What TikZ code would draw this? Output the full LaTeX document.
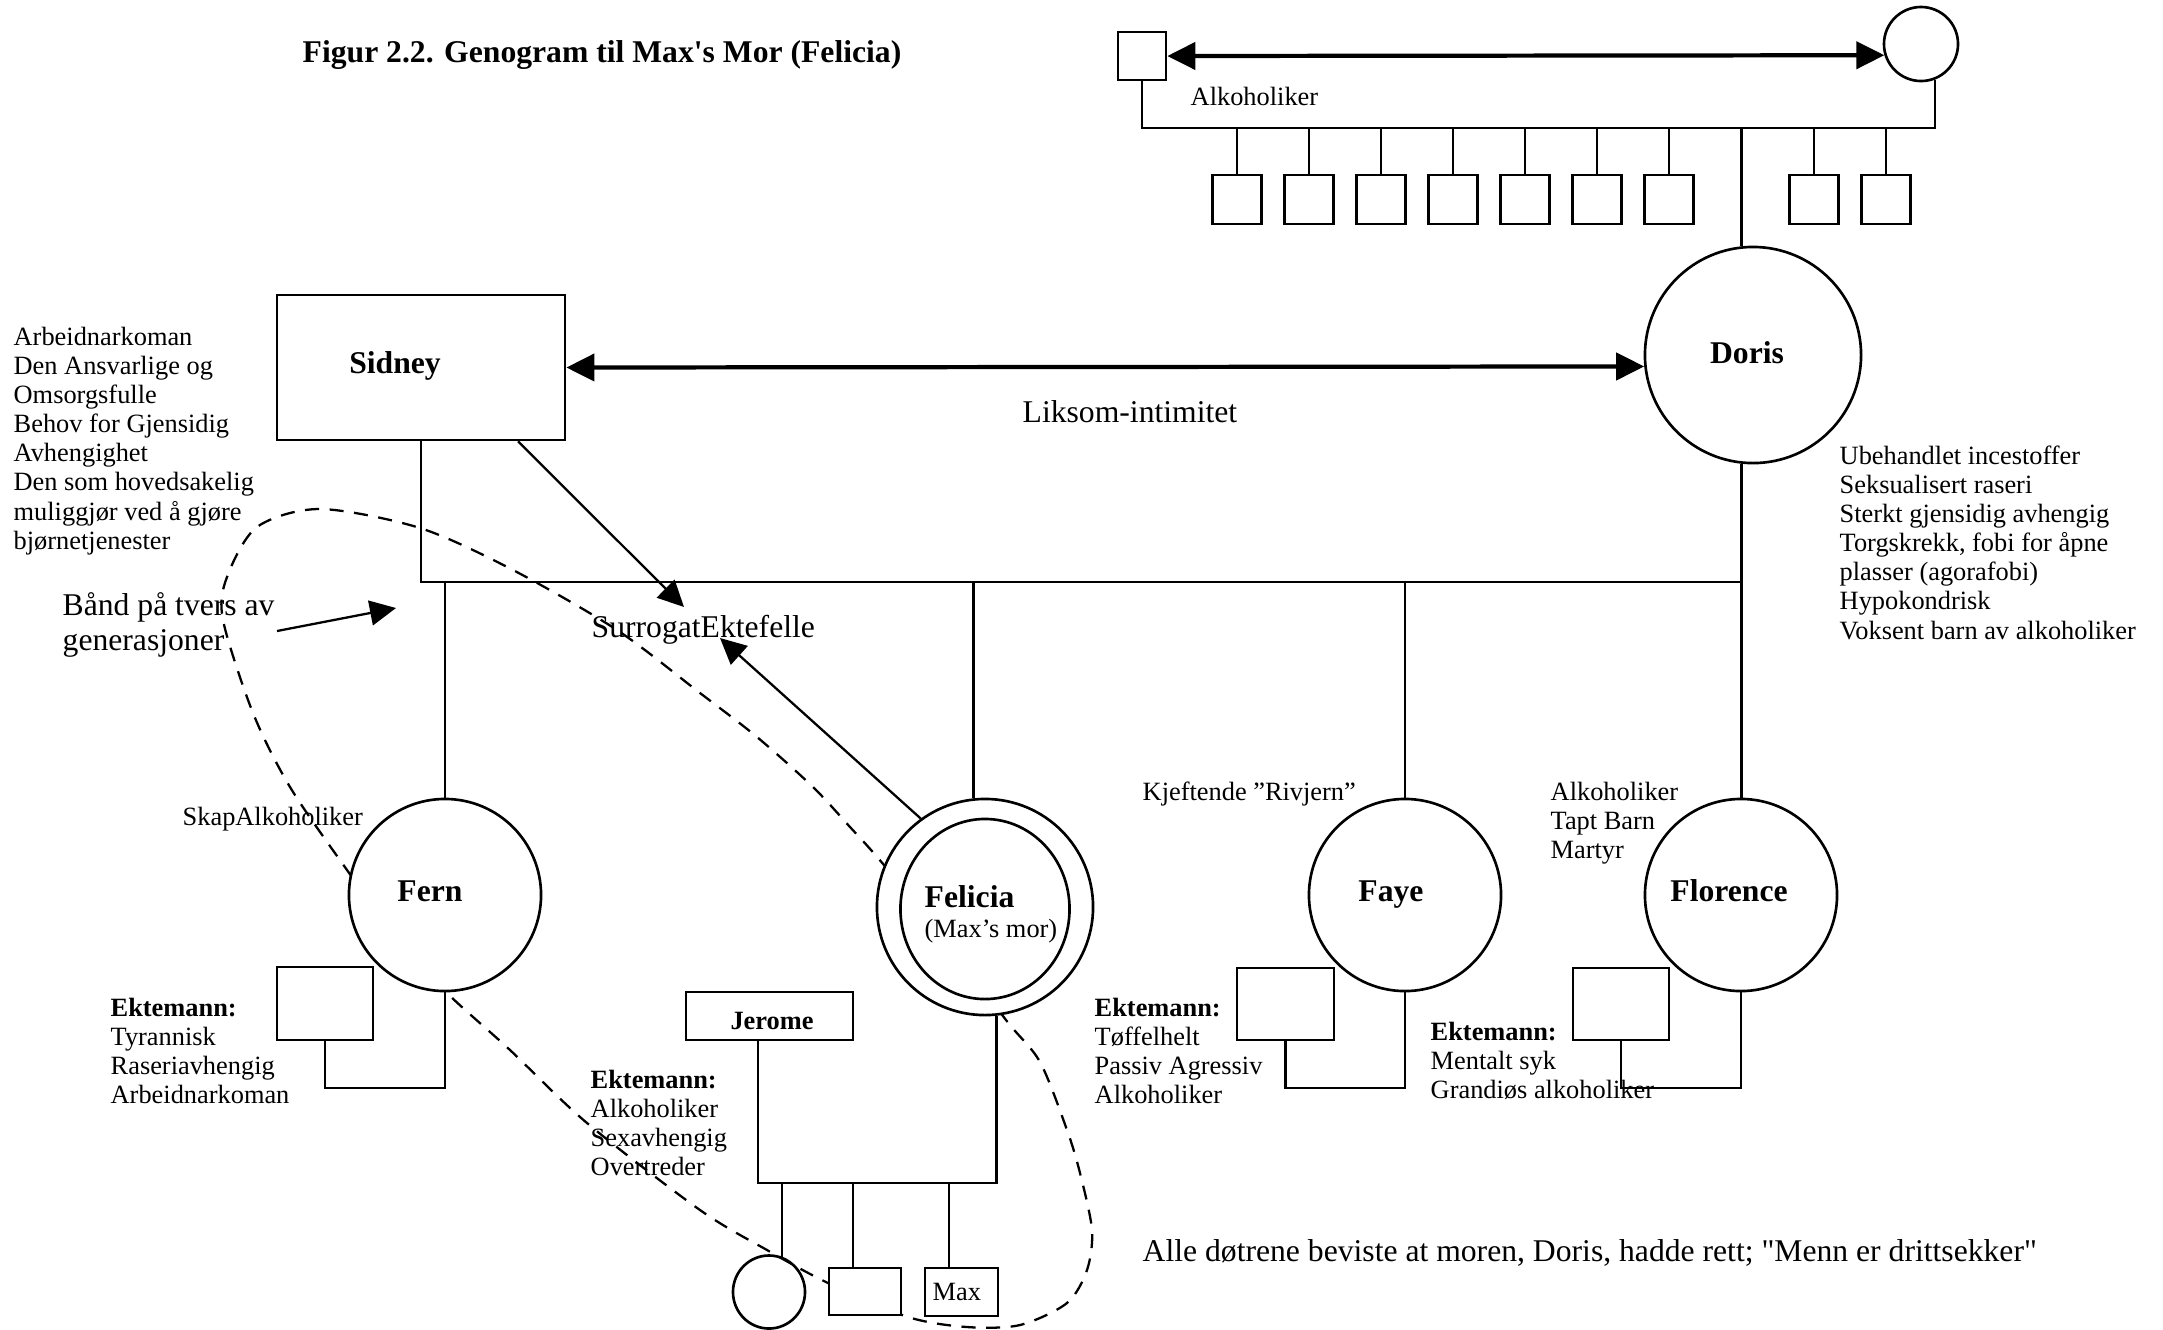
\documentclass[tikz,border=0pt]{standalone}
\usepackage{fontspec}
\setmainfont{Liberation Serif}
\usetikzlibrary{arrows.meta,shapes.geometric,calc}

% text sizes used in the genogram
\newcommand\smallsz{\fontsize{7.5}{8.3}\selectfont}
\newcommand\namesz{\fontsize{9}{10}\selectfont\bfseries}
\newcommand\largesz{\fontsize{9}{9.95}\selectfont}
\newcommand\txtlines[1]{\begin{tabular}[t]{@{}l@{}}#1\end{tabular}}

\begin{document}
\begin{tikzpicture}[x=0.01cm, y=-0.01cm,
  shapeline/.style={draw, line width=0.75pt, fill=white},
  person/.style={shapeline, ellipse, inner sep=0pt},
  sqbox/.style={shapeline, rectangle, inner sep=0pt},
  conn/.style={line width=0.65pt},
  rel/.style={line width=1.2pt, arrows={Triangle[length=0.28cm,width=0.27cm]-Triangle[length=0.28cm,width=0.27cm]}},
  pointer/.style={line width=0.65pt, arrows={-Triangle[length=0.26cm,width=0.25cm]}},
  loopline/.style={line width=0.65pt, dash pattern=on 4pt off 3pt},
  note/.style={inner sep=0pt, anchor=base west, font=\smallsz},
  bignote/.style={inner sep=0pt, anchor=base west, font=\largesz},
  pname/.style={inner sep=0pt, anchor=base, font=\namesz},
]
\useasboundingbox (0,0) rectangle (2163,1329);

% dashed loop: cross-generational bond around Fern and Felicia
\draw[loopline] plot[smooth cycle, tension=0.5] coordinates {
  (878,858) (940,932) (1006,1020) (1040,1062) (1067,1130) (1080,1173)
  (1092,1230) (1087,1270) (1067,1303) (1020,1325) (967,1327) (908,1317)
  (828,1283) (767,1250) (700,1210) (587,1123) (510,1050) (446,992)
  (395,935) (347,870) (290,787) (253,713) (223,620) (227,577)
  (257,527) (320,509) (420,528) (513,570) (617,630) (700,693)
  (757,737) (813,787) (850,827)};

% title
\node[anchor=base west, inner sep=0pt, font=\fontsize{9}{10.8}\selectfont\bfseries] (title)
  at (302,62) {Figur 2.2. Genogram til Max\textquotesingle s Mor (Felicia)};

% grandparents and their children
\node[sqbox, minimum width=0.48cm, minimum height=0.48cm] (gf) at (1142,56) {};
\node[person, minimum width=0.74cm, minimum height=0.74cm] (gm) at (1921,44) {};
\draw[rel] (gf.east) -- (gm.197);
\node[note] (gfnote) at (1190,105) {Alkoholiker};
\coordinate (sibY) at (0,128);
\draw[conn] (gf.south) |- (gm.-69 |- sibY) -- (gm.-69);
\foreach \i/\x in {1/1237,2/1309,3/1381,4/1453,5/1525,6/1597,7/1669,8/1814,9/1886} {
  \node[sqbox, minimum width=0.49cm, minimum height=0.49cm] (sib\i) at (\x,199.5) {};
  \draw[conn] (sib\i.north |- sibY) -- (sib\i.north);
}

% Doris
\node[person, minimum width=2.16cm, minimum height=2.16cm] (doris) at (1753,355) {};
\node[pname] (dorisT) at (1747,363) {Doris};
\draw[conn] (doris.96 |- sibY) -- (doris.96);
\node[note] (dorisnote) at (1839,464) {\txtlines{Ubehandlet incestoffer\\Seksualisert raseri\\Sterkt gjensidig avhengig\\Torgskrekk, fobi for åpne\\plasser (agorafobi)\\Hypokondrisk\\Voksent barn av alkoholiker}};

% Sidney
\node[sqbox, minimum width=2.88cm, minimum height=1.45cm] (sidney) at (421,367.5) {};
\node[pname] (sidneyT) at (395,373) {Sidney};
\node[note] (sidneynote) at (13,345) {\txtlines{Arbeidnarkoman\\Den Ansvarlige og\\Omsorgsfulle\\Behov for Gjensidig\\Avhengighet\\Den som hovedsakelig\\muliggjør ved å gjøre\\bjørnetjenester}};
\draw[rel] (sidney.east) -- (doris.186);
\node[bignote] (liksom) at (1022,422) {Liksom-intimitet};

% daughters
\node[person, minimum width=1.92cm, minimum height=1.92cm] (fern) at (445,895) {};
\node[person, minimum width=2.16cm, minimum height=2.16cm] (felo) at (985,907) {};
\node[person, minimum width=1.69cm, minimum height=1.80cm] (feli) at (985,909) {};
\node[person, minimum width=1.92cm, minimum height=1.92cm] (faye) at (1405,895) {};
\node[person, minimum width=1.92cm, minimum height=1.92cm] (flor) at (1741,895) {};
\node[pname] (fernT) at (430,901) {Fern};
\node[inner sep=0pt, anchor=base west, font=\namesz] (feliT) at (924,907) {Felicia};
\node[note] (feliS) at (924,937) {(Max’s mor)};
\node[pname] (fayeT) at (1391,901) {Faye};
\node[pname] (florT) at (1729,901) {Florence};

\coordinate (famY) at (0,582);
\draw[conn] (sidney.south) |- (doris.-96 |- famY);
\draw[conn] (doris.-96) -- (doris.-96 |- flor.north);
\draw[conn] (fern.north |- famY) -- (fern.north);
\draw[conn] (felo.96 |- famY) -- (felo.96);
\draw[conn] (faye.north |- famY) -- (faye.north);

\node[note] (fernnote) at (182,825) {SkapAlkoholiker};
\node[note] (fayenote) at (1142,800) {Kjeftende ”Rivjern”};
\node[note] (flornote) at (1550,800) {\txtlines{Alkoholiker\\Tapt Barn\\Martyr}};

% surrogate spouse arrows
\node[bignote] (surr) at (591,637) {SurrogatEktefelle};
\coordinate (sidOut) at ([xshift=0.97cm]sidney.south);
\coordinate (surTipA) at (684,607);
\coordinate (surTipB) at (720,638);
\draw[pointer] (sidOut) -- (surTipA);
\draw[pointer] (felo.126) -- (surTipB);

% cross-generational bond label
\node[bignote] (band) at (62,615) {\txtlines{Bånd på tvers av\\generasjoner}};
\coordinate (bandFrom) at (277,631);
\coordinate (bandTo) at (396,608);
\draw[pointer] (bandFrom) -- (bandTo);

% husbands
\coordinate (husY) at (0,1088);
\node[sqbox, minimum width=0.96cm, minimum height=0.73cm] (fernh) at (325,1003.5) {};
\draw[conn] (fernh.south) |- (fern.south |- husY) -- (fern.south);
\node[note] (fernhnote) at (110,1016) {\txtlines{\textbf{Ektemann:}\\Tyrannisk\\Raseriavhengig\\Arbeidnarkoman}};

\node[sqbox, minimum width=0.97cm, minimum height=0.72cm] (fayeh) at (1285.5,1004) {};
\draw[conn] (fayeh.south) |- (faye.south |- husY) -- (faye.south);
\node[note] (fayehnote) at (1094,1016) {\txtlines{\textbf{Ektemann:}\\Tøffelhelt\\Passiv Agressiv\\Alkoholiker}};

\node[sqbox, minimum width=0.96cm, minimum height=0.72cm] (florh) at (1621,1004) {};
\draw[conn] (florh.south) |- (flor.south |- husY) -- (flor.south);
\node[note] (florhnote) at (1430,1040) {\txtlines{\textbf{Ektemann:}\\Mentalt syk\\Grandiøs alkoholiker}};

% Felicia, Jerome and their children
\node[sqbox, minimum width=1.67cm, minimum height=0.48cm] (jerome) at (769.5,1016) {};
\node[inner sep=0pt, anchor=base, font=\smallsz\bfseries] (jeromeT) at (772,1029) {Jerome};
\node[note] (jeromenote) at (590,1088) {\txtlines{\textbf{Ektemann:}\\Alkoholiker\\Sexavhengig\\Overtreder}};
\coordinate (jd) at ([xshift=-0.115cm]jerome.south);
\coordinate (kidY) at (0,1183);
\draw[conn] (felo.-84) |- (jd |- kidY) -- (jd);

\node[draw, line width=0.75pt, ellipse, inner sep=0pt, minimum width=0.72cm, minimum height=0.73cm] (kid1) at (769,1292) {};
\node[sqbox, minimum width=0.72cm, minimum height=0.47cm] (kid2) at (865,1291.5) {};
\node[sqbox, minimum width=0.73cm, minimum height=0.48cm] (maxb) at (961.5,1292) {};
\node[note] (maxT) at (932,1300) {Max};
\draw[conn] (kid1.70 |- kidY) -- (kid1.70);
\coordinate (k2top) at ([xshift=-0.12cm]kid2.north);
\draw[conn] (k2top |- kidY) -- (k2top);
\coordinate (k3top) at ([xshift=-0.125cm]maxb.north);
\draw[conn] (k3top |- kidY) -- (k3top);

% closing remark
\node[bignote] (alle) at (1142,1261) {Alle døtrene beviste at moren, Doris, hadde rett; \textquotedbl Menn er drittsekker\textquotedbl};
\end{tikzpicture}
\end{document}
